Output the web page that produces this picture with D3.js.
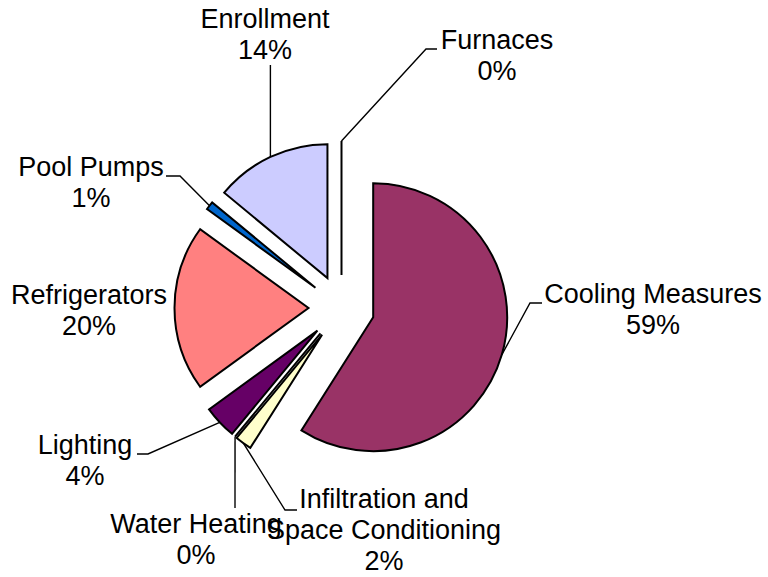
<!DOCTYPE html>
<html>
<head>
<meta charset="utf-8">
<script src="https://cdn.jsdelivr.net/npm/d3@7"></script>
<style>
  html, body { margin: 0; padding: 0; background: #fff; }
  svg { display: block; }
</style>
</head>
<body>
<div id="chart"></div>
<script>
// Slice data, clockwise from 12 o'clock (percent of total)
const categories = [
  'Cooling Measures',
  'Infiltration and Space Conditioning',
  'Water Heating',
  'Lighting',
  'Refrigerators',
  'Pool Pumps',
  'Enrollment',
  'Furnaces',
];
const shares = [59, 2, 0, 4, 20, 1, 14, 0];
const labelLines = [
  ['Cooling Measures', '59%'],
  ['Infiltration and', 'Space Conditioning', '2%'],
  ['Water Heating', '0%'],
  ['Lighting', '4%'],
  ['Refrigerators', '20%'],
  ['Pool Pumps', '1%'],
  ['Enrollment', '14%'],
  ['Furnaces', '0%'],
];
const sliceColors = ['#993366', '#FFFFCC', '#CCFFFF', '#660066', '#FF8080', '#0066CC', '#CCCCFF', '#000080'];

// Layout knobs
const width = 768;
const height = 577;
const center = { x: 341.5, y: 308 };
const radius = 134;
const explode = 33;
const fontSize = 27;
const lineHeight = 31;

// label anchor (center x, first baseline) and leader knee points, by slice index
const labelLayout = [
  { x: 653, y: 303, leader: [[530, 303], [542, 303]] },
  { x: 384, y: 508, leader: [[285, 510], [297, 510]] },
  { x: 196, y: 533, leader: [[235, 508]] },
  { x: 85, y: 454, leader: [[148, 454], [137, 454]] },
  { x: 89, y: 304, leader: null },
  { x: 91, y: 176, leader: [[180, 176], [166, 176]] },
  { x: 265, y: 28, leader: [[null, 65]] },
  { x: 497, y: 49, leader: [[426, 49], [437, 49]] },
];

const data = categories.map((name, i) => ({ name, value: shares[i], index: i }));

const pie = d3.pie().sort(null).value((d) => d.value);
const arcs = pie(data);

const arc = d3.arc().innerRadius(0).outerRadius(radius);

const svg = d3
  .select('#chart')
  .append('svg')
  .attr('width', width)
  .attr('height', height)
  .attr('viewBox', `0 0 ${width} ${height}`);

svg.append('rect').attr('width', width).attr('height', height).attr('fill', '#fff');

const offsetOf = (d) => {
  const mid = (d.startAngle + d.endAngle) / 2;
  return {
    mid,
    dx: Math.sin(mid) * explode,
    dy: -Math.cos(mid) * explode,
  };
};

/* Slices */
const sliceG = svg.append('g').attr('transform', `translate(${center.x},${center.y})`);

sliceG
  .selectAll('path.slice')
  .data(arcs)
  .join('path')
  .attr('class', 'slice')
  .attr('transform', (d) => {
    const o = offsetOf(d);
    return `translate(${o.dx},${o.dy})`;
  })
  .attr('d', arc)
  .attr('fill', (d) => sliceColors[d.data.index])
  .attr('stroke', '#000')
  .attr('stroke-width', 2)
  .attr('stroke-linejoin', 'miter');

/* Leader lines */
const leaderG = svg.append('g');

arcs.forEach((d) => {
  const layout = labelLayout[d.data.index];
  if (!layout.leader) return;
  const o = offsetOf(d);
  const start = [
    center.x + o.dx + Math.sin(o.mid) * radius,
    center.y + o.dy - Math.cos(o.mid) * radius,
  ];
  const pts = [start].concat(layout.leader.map((p) => [p[0] == null ? start[0] : p[0], p[1]]));
  leaderG
    .append('path')
    .attr('d', d3.line()(pts))
    .attr('fill', 'none')
    .attr('stroke', '#000')
    .attr('stroke-width', 1.4);
});

/* Labels */
const labelG = svg.append('g');

arcs.forEach((d) => {
  const layout = labelLayout[d.data.index];
  const text = labelG
    .append('text')
    .attr('x', layout.x)
    .attr('y', layout.y)
    .attr('text-anchor', 'middle')
    .attr('font-family', '"Liberation Sans", Arial, sans-serif')
    .attr('font-size', fontSize)
    .attr('fill', '#000');
  labelLines[d.data.index].forEach((line, i) => {
    text
      .append('tspan')
      .attr('x', layout.x)
      .attr('y', layout.y + i * lineHeight)
      .text(line);
  });
});
</script>
</body>
</html>
